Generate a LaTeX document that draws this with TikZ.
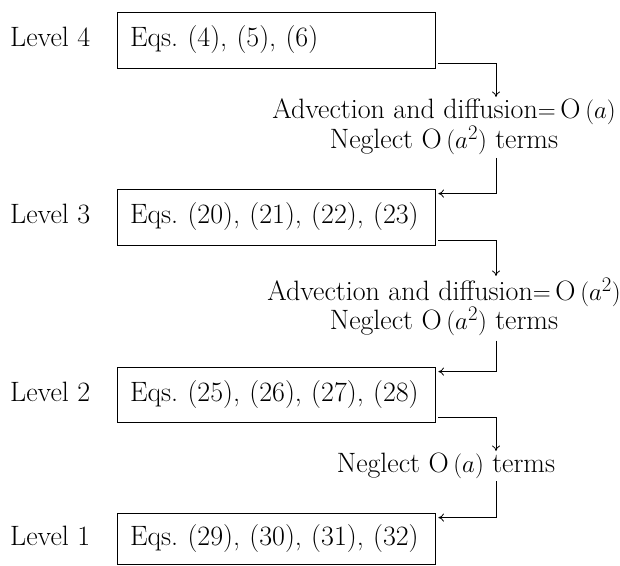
\documentclass[tikz,border=0pt]{standalone}
\usetikzlibrary{calc,arrows.meta}
\begin{document}
\begin{tikzpicture}[x=1pt,y=-1pt,
  txt/.style={font=\fontsize{28}{27}\selectfont, inner sep=0pt},
  eqbox/.style={txt, draw, line width=0.8pt, text width=292pt, inner xsep=13pt, inner ysep=0pt, align=left, minimum height=#1},
  note/.style={txt, align=center, inner sep=1.5pt, anchor=north},
  conn/.style={line width=0.8pt, -{To[length=5.5pt,width=8pt]}}]
\useasboundingbox (0,0) rectangle (620,565);
% boxes
\node[eqbox=56pt] (b4) at (276,40) {Eqs.\ (4),\ (5),\ (6)};
\node[eqbox=56pt] (b3) at (276,217) {Eqs.\ (20),\ (21),\ (22),\ (23)};
\node[eqbox=55pt] (b2) at (276,394.5) {Eqs.\ (25),\ (26),\ (27),\ (28)};
\node[eqbox=51pt] (b1) at (276,538.5) {Eqs.\ (29),\ (30),\ (31),\ (32)};
% level labels
\coordinate (lx) at (10,0);
\node[txt, anchor=base west] (l4) at (lx |- b4.base) {Level 4};
\node[txt, anchor=base west] (l3) at (lx |- b3.base) {Level 3};
\node[txt, anchor=base west] (l2) at (lx |- b2.base) {Level 2};
\node[txt, anchor=base west] (l1) at (lx |- b1.base) {Level 1};
% transition notes
\node[note] (t43) at (444,97) {Advection and diffusion${=}$\,O\,$(a)$\\Neglect O\,$(a^2)$ terms};
\node[note] (t32) at (444,276) {Advection and diffusion${=}$\,O\,$(a^2)$\\Neglect O\,$(a^2)$ terms};
\node[note] (t21) at (446,451) {Neglect O\,$(a)$ terms};
% connectors
\coordinate (vx) at (496,0);
\draw[conn] ($(b4.south east)+(3,-5)$) -| (vx |- t43.north);
\draw[conn] ($(vx |- t43.south)+(0,2)$) |- ($(b3.north east)+(3,5)$);
\draw[conn] ($(b3.south east)+(3,-5)$) -| (vx |- t32.north);
\draw[conn] ($(vx |- t32.south)+(0,3)$) |- ($(b2.north east)+(3,5)$);
\draw[conn] ($(b2.south east)+(3,-5)$) -| (vx |- t21.north);
\draw[conn] ($(vx |- t21.south)+(0,1)$) |- ($(b1.north east)+(3,5)$);
\end{tikzpicture}
\end{document}
